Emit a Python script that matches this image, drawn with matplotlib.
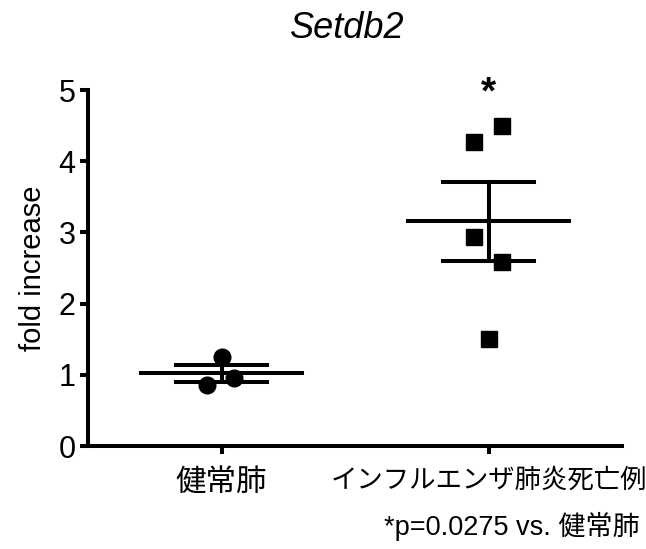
import numpy as np
import matplotlib
matplotlib.use('Agg')
import matplotlib.pyplot as plt

plt.rcParams['font.family'] = ['Liberation Sans', 'Noto Sans CJK JP', 'DejaVu Sans']

# data
groups = ['健常肺', 'インフルエンザ肺炎死亡例']
healthy = [1.25, 0.857, 0.955]
healthy_dx = [0.0, -0.053, 0.045]
flu = [4.49, 4.27, 2.94, 2.58, 1.50]
flu_dx = [0.049, -0.053, -0.053, 0.049, 0.0]
title = 'Setdb2'
ylabel = 'fold increase'
note = '*p=0.0275 vs. 健常肺'

fig = plt.figure(figsize=(6.46, 5.49), dpi=100)
ax = fig.add_axes([88/646, 103/549, 534/646, 356/549])

lw = 2.9
for i, (vals, dx, mk) in enumerate([(healthy, healthy_dx, 'o'), (flu, flu_dx, 's')]):
    vals = np.array(vals)
    m = vals.mean()
    sem = vals.std(ddof=1)/np.sqrt(len(vals))
    ax.plot([i-0.3, i+0.3], [m, m], '-', color='k', lw=lw, zorder=2)
    ax.plot([i-0.17, i+0.17], [m+sem]*2, '-', color='k', lw=lw, zorder=2)
    ax.plot([i-0.17, i+0.17], [m-sem]*2, '-', color='k', lw=lw, zorder=2)
    ax.plot([i, i], [m-sem, m+sem], '-', color='k', lw=lw, zorder=2)
    ax.plot(i+np.array(dx), vals, mk, color='k', ms=12, mec='k', zorder=3, clip_on=False)

ax.text(1, 4.95, '*', ha='center', va='center', fontsize=28, fontweight='bold')

ax.set_xlim(-0.5, 1.5)
ax.set_ylim(0, 5)
ax.set_xticks([0, 1])
ax.set_xticklabels(groups)
ax.set_yticks(range(6))
ax.tick_params(axis='both', width=lw, length=6, labelsize=22, pad=3)
ax.tick_params(axis='x', pad=10)
xl = ax.get_xticklabels()
xl[0].set_fontsize(22)
xl[1].set_fontsize(19)
for s in ['top', 'right']:
    ax.spines[s].set_visible(False)
for s in ['left', 'bottom']:
    ax.spines[s].set_linewidth(lw)
ax.set_ylabel(ylabel, fontsize=21, labelpad=8)
fig.text(347/646, 1-29/549, title, ha='center', va='center', fontsize=26, style='italic')
fig.text(640/646, 1-526/549, note, ha='right', va='center', fontsize=19.5)

fig.savefig('out.png', dpi=100)
